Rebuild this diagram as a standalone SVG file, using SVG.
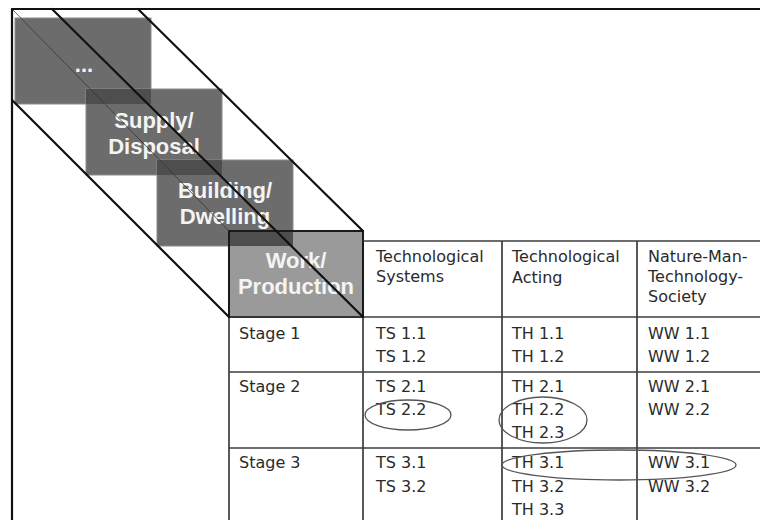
<svg xmlns="http://www.w3.org/2000/svg" width="760" height="520" viewBox="0 0 760 520">
  <style>
    .box { fill: #6c6c6c; stroke: #8c8c8c; stroke-width: 1; }
    .box4 { fill: #9a9a9a; stroke: #1a1a1a; stroke-width: 2; }
    .overlap { fill: #4e4e4e; }
    .boxlabel { font-family: "Liberation Sans", Arial, sans-serif; font-size: 22px; font-weight: bold; fill: #f4f4f4; text-anchor: middle; }
    .cell { font-family: "DejaVu Sans", Verdana, sans-serif; font-size: 16px; fill: #2a2a2a; }
    .grid { stroke: #3c3c3c; stroke-width: 1.7; fill: none; }
    .edge { stroke: #111; stroke-width: 2.2; fill: none; stroke-linecap: round; }
    .hidden-edge { stroke: #333; stroke-width: 1; fill: none; opacity: 0.75; }
    .mark { stroke: #555; stroke-width: 1.3; fill: none; }
  </style>

  <rect width="760" height="520" fill="#ffffff"/>

  <!-- Stacked context layers -->
  <g id="layer-other">
    <rect class="box" x="15" y="18" width="136" height="86"/>
    <text class="boxlabel" x="84" y="72">...</text>
  </g>
  <g id="layer-supply">
    <rect class="box" x="86" y="89" width="136" height="86"/>
    <rect class="overlap" x="86" y="89" width="65" height="15"/>
    <text class="boxlabel" x="154" y="128">Supply/</text>
    <text class="boxlabel" x="154" y="154">Disposal</text>
  </g>
  <g id="layer-building">
    <rect class="box" x="157" y="160" width="136" height="86"/>
    <rect class="overlap" x="157" y="160" width="65" height="15"/>
    <text class="boxlabel" x="225" y="198">Building/</text>
    <text class="boxlabel" x="225" y="224">Dwelling</text>
  </g>
  <g id="layer-work">
    <rect class="box4" x="229" y="231" width="134" height="86"/>
    <rect class="overlap" x="230" y="232" width="63" height="14"/>
    <text class="boxlabel" x="296" y="268">Work/</text>
    <text class="boxlabel" x="296" y="294">Production</text>
  </g>

  <!-- Table grid -->
  <g id="table-grid">
    <line class="grid" x1="363" y1="241" x2="760" y2="241"/>
    <line class="grid" x1="229" y1="317" x2="760" y2="317"/>
    <line class="grid" x1="229" y1="372" x2="760" y2="372"/>
    <line class="grid" x1="229" y1="448" x2="760" y2="448"/>
    <line class="grid" x1="229" y1="317" x2="229" y2="520"/>
    <line class="grid" x1="363" y1="317" x2="363" y2="520"/>
    <line class="grid" x1="502" y1="241" x2="502" y2="520"/>
    <line class="grid" x1="637" y1="241" x2="637" y2="520"/>
  </g>

  <!-- Column headers -->
  <g id="header-systems">
    <text class="cell" x="376" y="262">Technological</text>
    <text class="cell" x="376" y="282">Systems</text>
  </g>
  <g id="header-acting">
    <text class="cell" x="512" y="262">Technological</text>
    <text class="cell" x="512" y="283">Acting</text>
  </g>
  <g id="header-society">
    <text class="cell" x="648" y="262">Nature-Man-</text>
    <text class="cell" x="648" y="282">Technology-</text>
    <text class="cell" x="648" y="302">Society</text>
  </g>

  <!-- Stage rows -->
  <g id="stage-1">
    <text class="cell" x="239" y="339">Stage 1</text>
    <text class="cell" x="376" y="339">TS 1.1</text>
    <text class="cell" x="376" y="362">TS 1.2</text>
    <text class="cell" x="512" y="339">TH 1.1</text>
    <text class="cell" x="512" y="362">TH 1.2</text>
    <text class="cell" x="648" y="339">WW 1.1</text>
    <text class="cell" x="648" y="362">WW 1.2</text>
  </g>
  <g id="stage-2">
    <text class="cell" x="239" y="392">Stage 2</text>
    <text class="cell" x="376" y="392">TS 2.1</text>
    <text class="cell" x="376" y="415">TS 2.2</text>
    <text class="cell" x="512" y="392">TH 2.1</text>
    <text class="cell" x="512" y="415">TH 2.2</text>
    <text class="cell" x="512" y="438">TH 2.3</text>
    <text class="cell" x="648" y="392">WW 2.1</text>
    <text class="cell" x="648" y="415">WW 2.2</text>
  </g>
  <g id="stage-3">
    <text class="cell" x="239" y="468">Stage 3</text>
    <text class="cell" x="376" y="468">TS 3.1</text>
    <text class="cell" x="376" y="492">TS 3.2</text>
    <text class="cell" x="512" y="468">TH 3.1</text>
    <text class="cell" x="512" y="492">TH 3.2</text>
    <text class="cell" x="512" y="515">TH 3.3</text>
    <text class="cell" x="648" y="468">WW 3.1</text>
    <text class="cell" x="648" y="492">WW 3.2</text>
  </g>

  <!-- Highlight rings -->
  <g id="highlights">
    <ellipse class="mark" cx="408" cy="415" rx="43" ry="15"/>
    <ellipse class="mark" cx="543" cy="420" rx="44" ry="23"/>
    <ellipse class="mark" cx="619" cy="465" rx="117" ry="15"/>
  </g>

  <!-- Frame and prism edges -->
  <g id="connectors">
    <line class="hidden-edge" x1="12" y1="9" x2="229" y2="231"/>
    <line class="edge" x1="12" y1="9" x2="760" y2="9"/>
    <line class="edge" x1="12" y1="9" x2="12" y2="520"/>
    <line class="edge" x1="12" y1="100" x2="229" y2="317"/>
    <line class="edge" x1="52" y1="9" x2="363" y2="317"/>
    <line class="edge" x1="138" y1="9" x2="363" y2="231"/>
  </g>
</svg>
